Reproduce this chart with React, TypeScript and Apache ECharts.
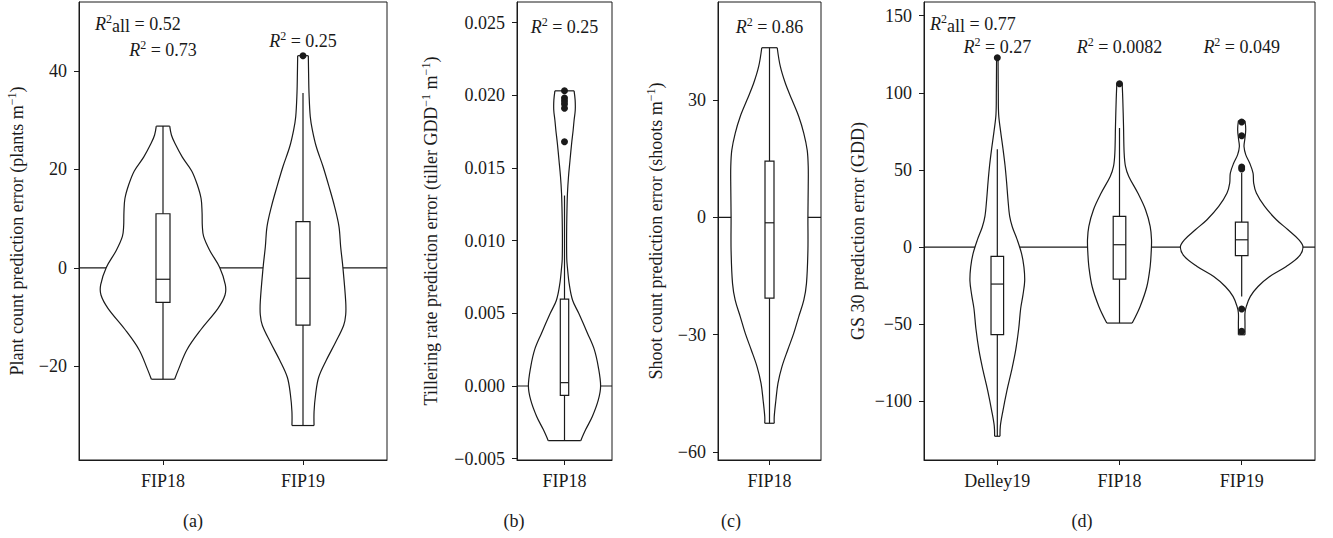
import React, { useEffect, useRef } from 'react';
import * as echarts from 'echarts';

// ---------------- Panel (a): plant count ----------------
const catsA = ['FIP18', 'FIP19'];
const yTicksA = [-20, 0, 20, 40];
// violin outline: [value, half width in category units]
const violinA1 = [[28.8, 0.048], [27.0, 0.06], [25.3, 0.085], [22.5, 0.138], [19.7, 0.205], [16.9, 0.245], [14.1, 0.272], [11.3, 0.279], [8.5, 0.281], [6.4, 0.29], [3.6, 0.333], [0.1, 0.405], [-3.4, 0.445], [-5.5, 0.443], [-8.2, 0.393], [-12.4, 0.274], [-16.6, 0.171], [-20.5, 0.112], [-22.6, 0.083]];
// box: [whisker low, q1, median, q3, whisker high]
const boxA1 = [-22.6, -7.0, -2.3, 11.0, 28.8];
const violinA2 = [[43.1, 0.038], [39.5, 0.04], [35.5, 0.043], [30.7, 0.052], [28.0, 0.067], [24.6, 0.095], [20.6, 0.143], [16.5, 0.186], [12.4, 0.226], [8.4, 0.257], [4.3, 0.269], [0.1, 0.285], [-6.8, 0.305], [-9.5, 0.305], [-11.7, 0.29], [-15.2, 0.231], [-18.7, 0.167], [-22.2, 0.112], [-25.7, 0.09], [-29.2, 0.079], [-32.0, 0.079]];
const boxA2 = [-32.0, -11.6, -2.1, 9.4, 35.5];
const outliersA = [[2, 43.1]];
const r2A = ['0.73', '0.25'];
const r2AllA = '0.52';

// ---------------- Panel (b): tillering rate ----------------
const catsB = ['FIP18'];
const yTicksB = [-0.005, 0, 0.005, 0.01, 0.015, 0.02, 0.025];
const violinB1 = [[0.0203, 0.101], [0.01966, 0.112], [0.01897, 0.113], [0.01828, 0.101], [0.01759, 0.091], [0.01668, 0.075], [0.01553, 0.058], [0.01439, 0.042], [0.01324, 0.031], [0.0121, 0.026], [0.01095, 0.023], [0.00981, 0.022], [0.0087, 0.024], [0.0082, 0.03], [0.007, 0.05], [0.0059, 0.085], [0.005, 0.15], [0.0036, 0.244], [0.0025, 0.314], [0.0013, 0.356], [0.0, 0.38], [-0.00096, 0.356], [-0.0021, 0.293], [-0.003, 0.223], [-0.00376, 0.171]];
const boxB1 = [-0.00376, -0.00064, 0.00023, 0.00598, 0.0131];
const outliersB = [[1, 0.0203], [1, 0.0198], [1, 0.0196], [1, 0.0194], [1, 0.0191], [1, 0.0168]];
const r2B = ['0.25'];

// ---------------- Panel (c): shoot count ----------------
const catsC = ['FIP18'];
const yTicksC = [-60, -30, 0, 30];
const violinC1 = [[43.4, 0.075], [38.6, 0.105], [34.3, 0.154], [30.0, 0.219], [25.8, 0.284], [21.5, 0.333], [17.2, 0.366], [13.0, 0.376], [7.9, 0.376], [0.2, 0.373], [-8.4, 0.373], [-16.9, 0.359], [-21.2, 0.333], [-25.4, 0.284], [-29.7, 0.235], [-34.0, 0.176], [-38.2, 0.121], [-42.5, 0.082], [-46.8, 0.062], [-51.0, 0.046], [-52.7, 0.046]];
const boxC1 = [-52.7, -20.7, -1.4, 14.4, 43.4];
const outliersC: number[][] = [];
const r2C = ['0.86'];

// ---------------- Panel (d): GS 30 ----------------
const catsD = ['Delley19', 'FIP18', 'FIP19'];
const yTicksD = [-100, -50, 0, 50, 100, 150];
const violinD1 = [[122.7, 0.006], [100, 0.008], [86, 0.011], [75, 0.027], [64, 0.046], [53, 0.063], [42, 0.076], [31, 0.087], [20, 0.101], [13, 0.123], [4.5, 0.164], [-4.4, 0.199], [-13, 0.218], [-22, 0.224], [-31, 0.21], [-40, 0.191], [-53, 0.175], [-67, 0.15], [-80, 0.117], [-93, 0.079], [-107, 0.044], [-116, 0.025], [-122.7, 0.022]];
const boxD1 = [-122.7, -56.8, -24, -6, 63.4];
const violinD2 = [[105.9, 0.022], [95.5, 0.027], [78.2, 0.033], [61.0, 0.038], [52.3, 0.049], [45.8, 0.076], [35.0, 0.15], [24.2, 0.213], [13.4, 0.251], [4.7, 0.262], [-3.9, 0.259], [-12.6, 0.251], [-25.6, 0.224], [-38.5, 0.169], [-49.3, 0.104]];
const boxD2 = [-49.3, -20.8, 1.5, 19.9, 77.2];
const violinD3 = [[81.9, 0.027], [76.1, 0.033], [69.6, 0.025], [65.2, 0.019], [59.9, 0.033], [54.5, 0.065], [48.0, 0.093], [41.5, 0.098], [35.0, 0.12], [26.3, 0.188], [17.7, 0.284], [11.2, 0.379], [4.7, 0.469], [0, 0.502], [-6.1, 0.469], [-12.6, 0.365], [-19.1, 0.229], [-25.6, 0.134], [-32.0, 0.071], [-38.5, 0.038], [-42.8, 0.027], [-49.3, 0.027], [-56.9, 0.027]];
const boxD3 = [-32.0, -5.6, 4.7, 16.2, 48.0];
const outliersD = [[1, 122.7], [2, 105.9], [3, 81.1], [3, 72.2], [3, 51.9], [3, 50.6], [3, -40.2], [3, -54.7]];
const r2D = ['0.27', '0.0082', '0.049'];
const r2AllD = '0.77';

// ---------------- styling / layout ----------------
const FONT = "'Liberation Serif', 'Times New Roman', serif";
const INK = '#1a1a1a';
const FS = 18;
const LW = 1.2;

type Panel = {
  grid: { left: number; top: number; width: number; height: number };
  xMin: number; xMax: number; yMin: number; yMax: number;
  cats: string[]; yTicks: number[]; digits: number;
  name: string; nameGap: number;
  violins: { x: number; profile: number[][]; box: number[] }[];
  outliers: number[][];
  r2: string[]; r2Y: number[]; r2All?: string; r2AllDx?: number;
  boxHalf: number; caption: string; captionX: number;
};

const panels: Panel[] = [
  {
    grid: { left: 79, top: 2, width: 308, height: 458 },
    xMin: 0.4, xMax: 2.6, yMin: -39.0, yMax: 54.0,
    cats: catsA, yTicks: yTicksA, digits: 0,
    name: '{t|Plant count prediction error (plants m}{s|\u22121}{t|)}', nameGap: 51,
    violins: [{ x: 1, profile: violinA1, box: boxA1 }, { x: 2, profile: violinA2, box: boxA2 }],
    outliers: outliersA, r2: r2A, r2Y: [50, 41], r2All: r2AllA, r2AllDx: 16,
    boxHalf: 7, caption: '(a)', captionX: 193,
  },
  {
    grid: { left: 517, top: 2, width: 95, height: 458 },
    xMin: 0.5, xMax: 1.5, yMin: -0.00509, yMax: 0.02641,
    cats: catsB, yTicks: yTicksB, digits: 3,
    name: '{t|Tillering rate prediction error (tiller GDD}{s|\u22121}{t| m}{s|\u22121}{t|)}', nameGap: 75,
    violins: [{ x: 1, profile: violinB1, box: boxB1 }],
    outliers: outliersB, r2: r2B, r2Y: [27],
    boxHalf: 4.2, caption: '(b)', captionX: 514,
  },
  {
    grid: { left: 718, top: 2, width: 103, height: 458 },
    xMin: 0.5, xMax: 1.5, yMin: -62.1, yMax: 55.1,
    cats: catsC, yTicks: yTicksC, digits: 0,
    name: '{t|Shoot count prediction error (shoots m}{s|\u22121}{t|)}', nameGap: 51,
    violins: [{ x: 1, profile: violinC1, box: boxC1 }],
    outliers: outliersC, r2: r2C, r2Y: [27],
    boxHalf: 4.5, caption: '(c)', captionX: 731,
  },
  {
    grid: { left: 924, top: 2, width: 391, height: 458 },
    xMin: 0.4, xMax: 3.6, yMin: -138.1, yMax: 158.9,
    cats: catsD, yTicks: yTicksD, digits: 0,
    name: '{t|GS 30 prediction error (GDD)}', nameGap: 55,
    violins: [{ x: 1, profile: violinD1, box: boxD1 }, { x: 2, profile: violinD2, box: boxD2 }, { x: 3, profile: violinD3, box: boxD3 }],
    outliers: outliersD, r2: r2D, r2Y: [47, 47, 47], r2All: r2AllD, r2AllDx: 6,
    boxHalf: 6.3, caption: '(d)', captionX: 1082,
  },
];

const richTokens = {
  i: { fontSize: FS, fontFamily: FONT, fontStyle: 'italic', fill: INK, lineHeight: 22 },
  s: { fontSize: 12, fontFamily: FONT, fill: INK, lineHeight: 12, verticalAlign: 'top' },
  t: { fontSize: FS, fontFamily: FONT, fill: INK, lineHeight: 22 },
  b: { fontSize: FS, fontFamily: FONT, fill: INK, lineHeight: 16, verticalAlign: 'bottom' },
};

const fmtNum = (digits: number) => (v: number) => {
  const s = Math.abs(v).toFixed(digits);
  return (v < -1e-12 ? '\u2212' : '') + s;
};

function buildOption() {
  const grid = panels.map((p) => ({
    ...p.grid, show: true, borderColor: INK, borderWidth: 1, backgroundColor: 'transparent',
  }));
  const xAxis = panels.map((p, i) => {
    const pos = p.cats.map((_, k) => k + 1);
    return {
      type: 'value', gridIndex: i, min: p.xMin, max: p.xMax,
      axisLine: { show: true, onZero: false, lineStyle: { color: INK, width: 1 } },
      axisTick: { show: true, inside: false, length: 5, customValues: pos, lineStyle: { color: INK, width: 1 } },
      axisLabel: {
        show: true, customValues: pos, margin: 12,
        formatter: (v: number) => p.cats[Math.round(v) - 1] ?? '',
        fontSize: FS, fontFamily: FONT, color: INK,
      },
      splitLine: { show: false },
    };
  });
  const yAxis = panels.map((p, i) => ({
    type: 'value', gridIndex: i, min: p.yMin, max: p.yMax,
    axisLine: { show: true, onZero: false, lineStyle: { color: INK, width: 1 } },
    axisTick: { show: true, inside: false, length: 5, customValues: p.yTicks, lineStyle: { color: INK, width: 1 } },
    axisLabel: {
      show: true, customValues: p.yTicks, margin: 12,
      formatter: fmtNum(p.digits), fontSize: FS, fontFamily: FONT, color: INK,
    },
    splitLine: { show: false },
    name: p.name, nameLocation: 'middle', nameGap: p.nameGap,
    nameTextStyle: {
      fontSize: FS, fontFamily: FONT, color: INK,
      rich: {
        t: { fontSize: FS, fontFamily: FONT, color: INK, lineHeight: 22 },
        s: { fontSize: 12, fontFamily: FONT, color: INK, lineHeight: 12, verticalAlign: 'top' },
      },
    },
  }));

  const series: any[] = [];
  panels.forEach((p, i) => {
    // zero reference line
    series.push({
      type: 'custom', xAxisIndex: i, yAxisIndex: i, z: 1, silent: true,
      data: [[p.xMin, 0]],
      renderItem: (params: any, api: any) => {
        const cs = params.coordSys;
        const y = api.coord([p.xMin, 0])[1];
        return { type: 'line', shape: { x1: cs.x, y1: y, x2: cs.x + cs.width, y2: y }, style: { stroke: INK, lineWidth: LW } };
      },
    });
    // violins + boxes
    series.push({
      type: 'custom', xAxisIndex: i, yAxisIndex: i, z: 2, silent: true,
      data: p.violins.map((v) => [v.x, 0]),
      renderItem: (params: any, api: any) => {
        const v = p.violins[params.dataIndex];
        const right = v.profile.map(([y, w]) => api.coord([v.x + w, y]));
        const left = v.profile.map(([y, w]) => api.coord([v.x - w, y]));
        const fillPts = [...right, ...left.slice().reverse()];
        const top = [left[0], right[0]];
        const bot = [left[left.length - 1], right[right.length - 1]];
        const [lo, q1, med, q3, hi] = v.box;
        const cx = api.coord([v.x, 0])[0];
        const yLo = api.coord([v.x, lo])[1];
        const yHi = api.coord([v.x, hi])[1];
        const yQ1 = api.coord([v.x, q1])[1];
        const yQ3 = api.coord([v.x, q3])[1];
        const yMed = api.coord([v.x, med])[1];
        const bh = p.boxHalf;
        const edge = { fill: null, stroke: INK, lineWidth: LW };
        return {
          type: 'group',
          children: [
            { type: 'polygon', shape: { points: fillPts }, style: { fill: '#fff', stroke: null } },
            { type: 'polyline', shape: { points: right, smooth: 0.35 }, style: edge },
            { type: 'polyline', shape: { points: left, smooth: 0.35 }, style: edge },
            { type: 'polyline', shape: { points: top }, style: edge },
            { type: 'polyline', shape: { points: bot }, style: edge },
            { type: 'line', shape: { x1: cx, y1: yHi, x2: cx, y2: yLo }, style: { stroke: INK, lineWidth: LW } },
            { type: 'rect', shape: { x: cx - bh, y: yQ3, width: 2 * bh, height: yQ1 - yQ3 }, style: { fill: '#fff', stroke: INK, lineWidth: LW } },
            { type: 'line', shape: { x1: cx - bh, y1: yMed, x2: cx + bh, y2: yMed }, style: { stroke: INK, lineWidth: LW } },
          ],
        };
      },
    });
    // outliers
    if (p.outliers.length) {
      series.push({
        type: 'scatter', xAxisIndex: i, yAxisIndex: i, z: 5, silent: true,
        data: p.outliers, symbol: 'circle', symbolSize: 7,
        itemStyle: { color: INK, borderWidth: 0, opacity: 1 },
      });
    }
    // R² annotations
    series.push({
      type: 'custom', xAxisIndex: i, yAxisIndex: i, z: 6, silent: true,
      data: p.r2.map((_, k) => [k + 1, 0]),
      renderItem: (params: any, api: any) => {
        const k = params.dataIndex;
        const cx = api.coord([k + 1, 0])[0];
        const children: any[] = [
          {
            type: 'text', x: cx, y: p.r2Y[k],
            style: {
              text: `{i|R}{s|2}{t| = ${p.r2[k]}}`, align: 'center', verticalAlign: 'middle',
              fontSize: FS, fontFamily: FONT, fill: INK, rich: richTokens,
            },
          },
        ];
        if (k === 0 && p.r2All) {
          children.push({
            type: 'text', x: params.coordSys.x + (p.r2AllDx || 0), y: 24,
            style: {
              text: `{i|R}{s|2}{b|all}{t| = ${p.r2All}}`, align: 'left', verticalAlign: 'middle',
              fontSize: FS, fontFamily: FONT, fill: INK, rich: richTokens,
            },
          });
        }
        return { type: 'group', children };
      },
    });
  });

  const graphic = panels.map((p) => ({
    type: 'text', x: p.captionX, y: 521,
    style: { text: p.caption, align: 'center', verticalAlign: 'middle', fontSize: FS, fontFamily: FONT, fill: INK },
  }));

  return { animation: false, backgroundColor: '#fff', grid, xAxis, yAxis, series, graphic };
}

export default function App() {
  const ref = useRef<HTMLDivElement>(null);
  useEffect(() => {
    if (!ref.current) return;
    const chart = echarts.init(ref.current, undefined, { renderer: 'svg' });
    chart.setOption(buildOption() as any);
    return () => chart.dispose();
  }, []);
  return (
    <div
      ref={ref}
      style={{ position: 'fixed', left: 0, top: 0, width: 1333, height: 538, background: '#fff' }}
    />
  );
}
